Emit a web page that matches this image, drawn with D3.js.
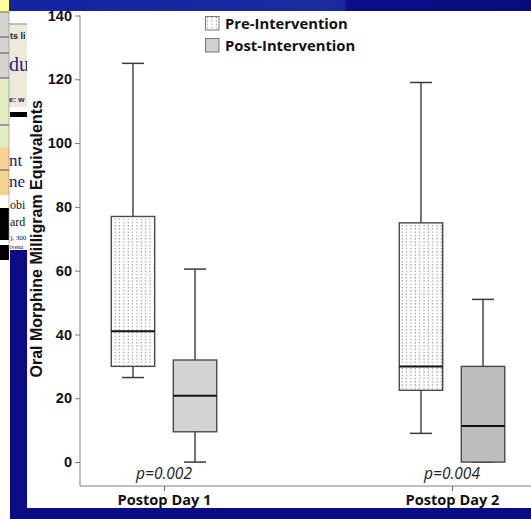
<!DOCTYPE html>
<html><head><meta charset="utf-8">
<script src="https://cdn.jsdelivr.net/npm/d3@7"></script>
<style>
html,body{margin:0;padding:0;background:#fff;}
svg{display:block;}
</style></head>
<body>
<svg id="c" width="531" height="519"></svg>
<script>
// ---- data ----
const categories = ["Postop Day 1", "Postop Day 2"];
const seriesNames = ["Pre-Intervention", "Post-Intervention"];
const whiskerLow  = { "Pre-Intervention": [26.5, 9],    "Post-Intervention": [0, 0] };
const q1          = { "Pre-Intervention": [30, 22.5],   "Post-Intervention": [9.5, 0] };
const medians     = { "Pre-Intervention": [41, 30],     "Post-Intervention": [20.8, 11.3] };
const q3          = { "Pre-Intervention": [77, 75],     "Post-Intervention": [32, 30] };
const whiskerHigh = { "Pre-Intervention": [125, 119],   "Post-Intervention": [60.5, 51] };
const pValues = ["p=0.002", "p=0.004"];
const yTicks = [0, 20, 40, 60, 80, 100, 120, 140];
const yLabel = "Oral Morphine Milligram Equivalents";

const svg = d3.select("#c");

// ---- slide background fragments ----
const bg = svg.append("g");
bg.append("rect").attr("x",0).attr("y",0).attr("width",531).attr("height",519).attr("fill","#fff");
const strip = [
  [0,0,9,13,"#ffff99"],[0,13,9,65,"#d7d4cf"],[0,78,9,69,"#e2edc2"],[0,147,9,48,"#f5d293"],
  [0,208,9,32,"#000"],[0,245,9,15,"#000"],[9,24,18,83,"#eeeadb"],[10,112,17,5,"#000"]
];
strip.forEach(r=>bg.append("rect").attr("x",r[0]).attr("y",r[1]).attr("width",r[2]).attr("height",r[3]).attr("fill",r[4]));
[12,37,53,78,125,170].forEach(yy=>bg.append("line").attr("x1",0).attr("x2",9).attr("y1",yy).attr("y2",yy).attr("stroke","#2a2a6a").attr("stroke-width",0.8));
bg.append("line").attr("x1",9).attr("x2",27).attr("y1",24).attr("y2",24).attr("stroke","#999").attr("stroke-width",1.2);
bg.append("line").attr("x1",9).attr("x2",9).attr("y1",11).attr("y2",250).attr("stroke","#888").attr("stroke-width",0.6);
const frag = [
  [10,39,"ts li",9,"#222","bold","Liberation Sans"],
  [9,71,"du",20,"#1a237e","normal","Liberation Serif"],
  [9,102,"e: w",8,"#225","bold","Liberation Sans"],
  [9,166,"nt",17,"#1a1a60","normal","Liberation Serif"],
  [9,187,"ne",17,"#1a1a60","normal","Liberation Serif"],
  [10,209,"obi",12,"#111","normal","Liberation Serif"],
  [10,226,"ard",12,"#111","normal","Liberation Serif"],
  [10,240,"), 300",7,"#111","normal","Liberation Serif"],
  [10,249,"ivenu",6,"#111","normal","Liberation Serif"]
];
frag.forEach(f=>bg.append("text").attr("x",f[0]).attr("y",f[1]).text(f[2])
  .attr("font-size",f[3]).attr("fill",f[4]).attr("font-weight",f[5]).attr("font-family",f[6]));
const defsBg = svg.append("defs");
const grad = defsBg.append("linearGradient").attr("id","topband").attr("x1","0").attr("x2","1");
grad.append("stop").attr("offset","0").attr("stop-color","#1424a2");
grad.append("stop").attr("offset","0.64").attr("stop-color","#1a2a9e");
grad.append("stop").attr("offset","0.65").attr("stop-color","#0b0b84");
grad.append("stop").attr("offset","1").attr("stop-color","#0a0a80");
bg.append("rect").attr("x",9).attr("y",0).attr("width",522).attr("height",11).attr("fill","url(#topband)");
bg.append("rect").attr("x",10).attr("y",250).attr("width",17).attr("height",269).attr("fill","#0b0b85");
bg.append("rect").attr("x",10).attr("y",508).attr("width",521).attr("height",11).attr("fill","#0b0b85");
bg.append("rect").attr("x",27).attr("y",11).attr("width",504).attr("height",497).attr("fill","#fff");

// ---- chart ----
const plot = {left:80, right:531, top:15.5, bottom:486};
const y = d3.scaleLinear().domain([-7.5, 140]).range([plot.bottom, plot.top]);
const x = d3.scalePoint().domain(categories).range([164, 452]);
const xs = d3.scaleBand().domain(seriesNames).range([-52.75, 52.75]).paddingInner(0.3);

const defs = svg.append("defs");
function dotPattern(id, ox, oy){
  const p = defs.append("pattern").attr("id",id).attr("patternUnits","userSpaceOnUse")
    .attr("width",4.35).attr("height",3.25).attr("x",ox).attr("y",oy);
  p.append("rect").attr("width",4.35).attr("height",3.25).attr("fill","#fff");
  p.append("rect").attr("x",1.5).attr("y",1).attr("width",1.1).attr("height",1.1).attr("fill","#7a7a7a");
}
dotPattern("dots",0,0);
dotPattern("dotsL",0.5,0.3);

const fills = { "Pre-Intervention": ["url(#dots)","url(#dots)"], "Post-Intervention": ["#d3d3d3","#bdbdbd"] };

const yAxis = d3.axisLeft(y).tickValues(yTicks).tickSize(5).tickSizeOuter(0).tickPadding(3);
const gy = svg.append("g").attr("transform",`translate(${plot.left},0)`).call(yAxis);
gy.select(".domain").remove();
gy.selectAll(".tick line").attr("stroke","#777");
gy.selectAll(".tick text").attr("font-family","Liberation Sans, Arial, sans-serif")
  .attr("font-weight","bold").attr("font-size",14.5).attr("fill","#111");

const xAxis = d3.axisBottom(x).tickSize(5).tickSizeOuter(0).tickPadding(3);
const gx = svg.append("g").attr("transform",`translate(0,${plot.bottom})`).call(xAxis);
gx.select(".domain").remove();
gx.selectAll(".tick line").attr("stroke","#666");
gx.selectAll(".tick text").attr("font-family","Open Sans, sans-serif")
  .attr("font-weight","bold").attr("font-size",14.6).attr("fill","#111").attr("dy","0.72em");

svg.append("line").attr("x1",plot.left).attr("x2",plot.left).attr("y1",y(140)).attr("y2",plot.bottom)
  .attr("stroke","#808080").attr("stroke-width",1);
svg.append("line").attr("x1",plot.left).attr("x2",plot.right).attr("y1",plot.bottom).attr("y2",plot.bottom)
  .attr("stroke","#808080").attr("stroke-width",1);

svg.append("text").attr("transform",`translate(42,${y(70)}) rotate(-90)`)
  .attr("text-anchor","middle").attr("font-family","Liberation Sans, Arial, sans-serif")
  .attr("font-weight","bold").attr("font-size",16).attr("fill","#111").text(yLabel);

const bw = xs.bandwidth();
const capW = 22;
seriesNames.forEach(s=>{
  categories.forEach((c,i)=>{
    const cx = x(c) + xs(s) + bw/2;
    const g = svg.append("g");
    g.append("line").attr("x1",cx).attr("x2",cx).attr("y1",y(q3[s][i])).attr("y2",y(whiskerHigh[s][i]))
      .attr("stroke","#2a2a2a").attr("stroke-width",1.3);
    g.append("line").attr("x1",cx).attr("x2",cx).attr("y1",y(q1[s][i])).attr("y2",y(whiskerLow[s][i]))
      .attr("stroke","#2a2a2a").attr("stroke-width",1.3);
    g.append("line").attr("x1",cx-capW/2).attr("x2",cx+capW/2).attr("y1",y(whiskerHigh[s][i])).attr("y2",y(whiskerHigh[s][i]))
      .attr("stroke","#3a3a3a").attr("stroke-width",1.5);
    g.append("line").attr("x1",cx-capW/2).attr("x2",cx+capW/2).attr("y1",y(whiskerLow[s][i])).attr("y2",y(whiskerLow[s][i]))
      .attr("stroke","#3a3a3a").attr("stroke-width",1.5);
    g.append("rect").attr("x",x(c)+xs(s)).attr("width",bw)
      .attr("y",y(q3[s][i])).attr("height",y(q1[s][i])-y(q3[s][i]))
      .attr("fill",fills[s][i]).attr("stroke","#4a4a4a").attr("stroke-width",1.4);
    g.append("line").attr("x1",x(c)+xs(s)).attr("x2",x(c)+xs(s)+bw).attr("y1",y(medians[s][i])).attr("y2",y(medians[s][i]))
      .attr("stroke","#111").attr("stroke-width",2);
  });
});

categories.forEach((c,i)=>{
  svg.append("text").attr("x",x(c)).attr("y",479).attr("text-anchor","middle")
    .attr("font-family","Open Sans, sans-serif").attr("font-style","italic").attr("font-size",15.5)
    .attr("fill","#222").text(pValues[i]);
});

const leg = svg.append("g").attr("transform","translate(205,16)");
seriesNames.forEach((s,i)=>{
  const gi = leg.append("g").attr("transform",`translate(0,${i*22})`);
  gi.append("rect").attr("x",0.5).attr("y",0.5).attr("width",13.5).attr("height",13.5)
    .attr("fill", i===0 ? "url(#dotsL)" : "#d0d0d0").attr("stroke","#777").attr("stroke-width",1);
  gi.append("text").attr("x",20).attr("y",12.5).attr("font-family","Open Sans, sans-serif")
    .attr("font-weight","bold").attr("font-size",14.8).attr("fill","#111").text(s);
});
</script>
</body></html>
